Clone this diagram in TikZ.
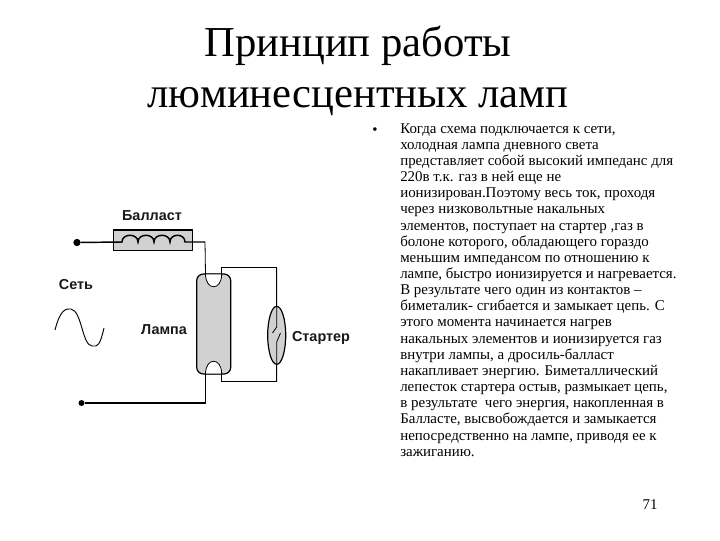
\documentclass[tikz,border=0pt]{standalone}
\usepackage{fontspec}
\usetikzlibrary{shapes.geometric}
\setmainfont{Liberation Serif}
\newfontfamily\diagfont{Liberation Sans}
\tikzset{
  wire/.style={draw=black,line width=0.6pt},
  thickwire/.style={draw=black,line width=1.1pt},
  part/.style={draw=black,fill=black!18,line width=0.9pt},
  lab/.style={font=\diagfont\bfseries\fontsize{10.8}{12}\selectfont,inner sep=0pt,text=black!90},
  titletext/.style={font=\fontsize{32}{38.2}\selectfont,align=center,inner sep=0pt},
  bodytext/.style={font=\fontsize{11.2}{12.12}\selectfont,align=left,inner sep=0pt,anchor=north west},
  terminal/.style={circle,fill=black,inner sep=0pt,minimum size=5.5pt}
}
\begin{document}
\begin{tikzpicture}[x=0.75pt,y=-0.75pt]
\useasboundingbox (0,0) rectangle (720,540);
\fill[white] (0,0) rectangle (720,540);
\node[titletext] (title) at (358,71) {Принцип работы\\люминесцентных ламп};
\node[font=\fontsize{11.2}{12}\selectfont,inner sep=0pt] (bullet) at (375,131) {•};
\node[bodytext] (body) at (400,123) {Когда схема подключается к сети,\\
холодная лампа дневного света\\
представляет собой высокий импеданс для\\
220в т.к. газ в ней еще не\\
ионизирован.Поэтому весь ток, проходя\\
через низковольтные накальных\\
элементов, поступает на стартер ,газ в\\
болоне которого, обладающего гораздо\\
меньшим импедансом по отношению к\\
лампе, быстро ионизируется и нагревается.\\
В результате чего один из контактов –\\
биметалик- сгибается и замыкает цепь. С\\
этого момента начинается нагрев\\
накальных элементов и ионизируется газ\\
внутри лампы, а дросиль-балласт\\
накапливает энергию. Биметаллический\\
лепесток стартера остыв, размыкает цепь,\\
в результате\ \ чего энергия, накопленная в\\
Балласте, высвобождается и замыкается\\
непосредственно на лампе, приводя ее к\\
зажиганию.};
\node[font=\fontsize{11.2}{12}\selectfont,inner sep=0pt] (page) at (650,505) {71};
% ballast
\node[part,rectangle,inner sep=0pt,minimum width=59.25pt,minimum height=15.2pt] (ballast) at (152.8,240.2) {};
\node[lab] (lb) at (152,216) {Балласт};
\node[terminal] (t1) at (77,242.5) {};
\node[terminal,minimum size=4.5pt] (t2) at (81.5,403) {};
\coordinate (c1) at (122,242);
\coordinate (c2) at (185,242);
\draw[thickwire] (t1) -- (c1)
  .. controls (122,233) and (138,233) .. (138,242)
  .. controls (138,233) and (154,233) .. (154,242)
  .. controls (154,233) and (170,233) .. (170,242)
  .. controls (170,233) and (185,233) .. (c2) -- (205,242);
% lamp
\node[part,rectangle,rounded corners=5pt,minimum width=25.5pt,minimum height=75pt,inner sep=0pt] (lamp) at (213.7,324) {};
\coordinate (tl) at (205.5,274);
\coordinate (tr) at (221.7,274);
\coordinate (bl) at (205.5,374);
\coordinate (br) at (221.7,374);
\draw[wire,fill=white] (tl) .. controls (205.5,291) and (221.7,291) .. (tr) -- cycle;
\draw[wire,fill=white] (bl) .. controls (205.5,357) and (221.7,357) .. (br) -- cycle;
\draw[wire] (205,242) -- (tl);
\draw[wire] (tr) -- (221.7,267.7) -- (276.7,267.7) -- (276.7,381.7) -- (221.7,381.7) -- (br);
\draw[thickwire] (t2) -- (205.5,403) -- (bl);
% starter
\node[part,ellipse,minimum width=13.5pt,minimum height=43.5pt,inner sep=0pt] (starter) at (276.7,335.3) {};
\draw[wire] (276.7,267.7) -- (276.7,327) -- (272.5,333);
\draw[wire] (276.7,381.7) -- (276.7,342) -- (280.5,333);
\draw[wire] (285,331) -- (285,341);
\node[lab] (ls) at (321,337.5) {Стартер};
\node[lab] (ll) at (164,330) {Лампа};
\node[lab] (lc) at (76,285) {Сеть};
% sine
\draw[wire,line width=0.7pt] (55,330) .. controls (60,310) and (66,308) .. (71,309)
  .. controls (82,311) and (82,345) .. (92,346)
  .. controls (98,347) and (100,345) .. (104,328);
\end{tikzpicture}
\end{document}
